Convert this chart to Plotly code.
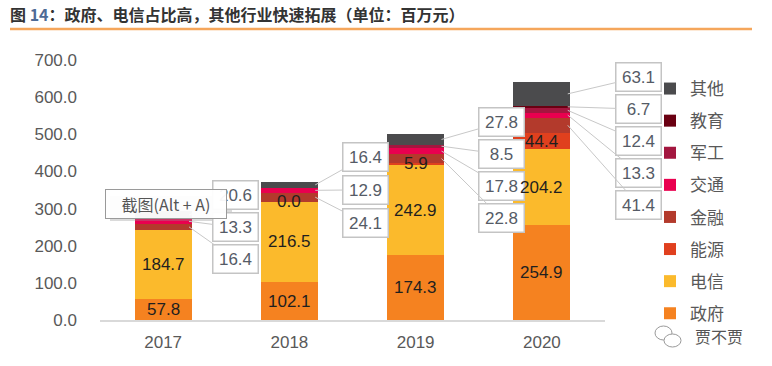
import plotly.graph_objects as go

# ---------------- data ----------------
years = ["2017", "2018", "2019", "2020"]
series_names = ["政府", "电信", "能源", "金融", "交通", "军工", "教育", "其他"]
gov = [57.8, 102.1, 174.3, 254.9]
telecom = [184.7, 216.5, 242.9, 204.2]
energy = [None, 0.0, 5.9, 44.4]
finance = [16.4, 24.1, 22.8, 41.4]
transport = [13.3, 12.9, 17.8, 13.3]
military = [None, None, 8.5, 12.4]
education = [None, None, None, 6.7]
other = [20.6, 16.4, 27.8, 63.1]
y_ticks = [0, 100, 200, 300, 400, 500, 600, 700]

series_values = [gov, telecom, energy, finance, transport, military, education, other]
colors = ["#F58220", "#FBBA2C", "#E0401E", "#B33A2C", "#E9004F", "#A3163F", "#6A0012", "#4B4B4D"]
inside_series = ["政府", "电信", "能源"]

# ---------------- layout constants ----------------
W, H = 772, 366
ML, MR, MT, MB = 100, 167, 60, 46
PW, PH = W - ML - MR, H - MT - MB
Y_MAX = 700
K = PH / Y_MAX           # px per unit
BAR_W = 0.45
FONT = "Liberation Sans, Arial, Noto Sans CJK SC, sans-serif"
CJK = "Noto Sans CJK SC, Liberation Sans, sans-serif"

x_idx = list(range(len(years)))

fig = go.Figure()
for k, (name, vals, col) in enumerate(zip(series_names, series_values, colors)):
    fig.add_trace(go.Bar(
        x=x_idx, y=vals, name=name, width=BAR_W,
        marker=dict(color=col, line=dict(width=0)),
        legendgroup=name, legendrank=1000 - k, hoverinfo="skip",
    ))

annotations = []
shapes = []

# per-year callout placement (styling)
callout_lift = [16, 25, 12, 5]
callout_step = [32, 33, 32, 32]
callout_dx = [42, 46, 56, 67]

for i in x_idx:
    base = 0.0
    bases = {}
    for name, vals in zip(series_names, series_values):
        v = vals[i]
        if v is None:
            continue
        bases[name] = (base, v)
        base += v
    total = base
    # inside labels
    for name in inside_series:
        if name in bases:
            b, v = bases[name]
            annotations.append(dict(
                x=i, y=b + v / 2, xref="x", yref="y", text=f"{v:.1f}",
                showarrow=False, font=dict(family=FONT, size=17, color="#1F1F1F"),
            ))
    # callouts
    j = 0
    for name in reversed(series_names):
        if name in inside_series or name not in bases:
            continue
        b, v = bases[name]
        box_y = total + (callout_lift[i] - callout_step[i] * j) / K
        annotations.append(dict(
            x=i + BAR_W / 2 - 0.02, y=b + v / 2, xref="x", yref="y",
            text=f"{v:.1f}", showarrow=True, arrowhead=0, arrowwidth=1,
            arrowcolor="#C8C8C8", axref="pixel", ayref="y",
            ax=callout_dx[i] + 4, ay=box_y, width=36,
            font=dict(family=FONT, size=17, color="#555B66"),
            bgcolor="white", bordercolor="#C4C4C4", borderwidth=1.5, borderpad=4,
        ))
        j += 1


def px_x(px):
    return (px - ML) / PW


def px_y(py):
    return (H - MB - py) / PH


# title
annotations.append(dict(
    xref="paper", yref="paper", x=px_x(8), y=px_y(14), xanchor="left", yanchor="middle",
    text="<b>图 <span style='color:#4E6B96'>14</span>：政府、电信占比高，其他行业快速拓展（单位：百万元）</b>",
    showarrow=False, font=dict(family=CJK, size=16, color="#333333"),
))
shapes.append(dict(type="line", xref="paper", yref="paper",
                   x0=px_x(10), x1=px_x(752), y0=px_y(29), y1=px_y(29),
                   line=dict(color="#F5A65B", width=2.5)))

# screenshot overlay artefact
shapes.append(dict(type="rect", xref="paper", yref="paper",
                   x0=px_x(110), x1=px_x(232), y0=px_y(221), y1=px_y(196),
                   line=dict(width=0), fillcolor="rgba(150,150,150,0.35)"))
annotations.append(dict(
    xref="paper", yref="paper", x=px_x(166), y=px_y(204), xanchor="center", yanchor="middle",
    text="截图(Alt + A)", showarrow=False, width=116,
    font=dict(family=CJK, size=16, color="#555555"),
    bgcolor="rgba(255,255,255,0.95)", bordercolor="#9A9A9A", borderwidth=1, borderpad=2,
))

# watermark
annotations.append(dict(
    xref="paper", yref="paper", x=px_x(719), y=px_y(336), xanchor="center", yanchor="middle",
    text="贾不贾", showarrow=False, font=dict(family=CJK, size=16, color="#555555"),
))
shapes.append(dict(type="circle", xref="paper", yref="paper",
                   x0=px_x(655), x1=px_x(672), y0=px_y(340), y1=px_y(326),
                   line=dict(color="#9A9A9A", width=1)))
shapes.append(dict(type="circle", xref="paper", yref="paper",
                   x0=px_x(664), x1=px_x(681), y0=px_y(347), y1=px_y(334),
                   line=dict(color="#9A9A9A", width=1), fillcolor="white"))

fig.update_layout(
    width=W, height=H, margin=dict(l=ML, r=MR, t=MT, b=MB, pad=0, autoexpand=False),
    paper_bgcolor="white", plot_bgcolor="white",
    barmode="stack", bargap=1 - BAR_W,
    showlegend=True,
    legend=dict(
        traceorder="grouped", x=px_x(650), y=px_y(71), xanchor="left", yanchor="top",
        font=dict(family=CJK, size=17, color="#595959"),
        tracegroupgap=7, itemwidth=30, bgcolor="rgba(0,0,0,0)",
    ),
    xaxis=dict(
        range=[-0.5, len(years) - 0.5], tickmode="array", tickvals=x_idx, ticktext=years,
        showgrid=False, zeroline=False, showline=True, linecolor="#D9D9D9", linewidth=1.5,
        ticks="", tickfont=dict(family=FONT, size=17, color="#595959"),
        ticklabelstandoff=6,
    ),
    yaxis=dict(
        range=[0, Y_MAX], tickmode="array", tickvals=y_ticks,
        ticktext=[f"{t:.1f}" for t in y_ticks],
        showgrid=False, zeroline=False, showline=False, ticks="",
        tickfont=dict(family=FONT, size=17, color="#595959"),
        ticklabelstandoff=22,
    ),
    annotations=annotations, shapes=shapes,
)

fig.write_html(
    "out.html",
    config={"displayModeBar": False},
    post_script="document.body.style.margin='0';document.body.style.padding='0';",
)
